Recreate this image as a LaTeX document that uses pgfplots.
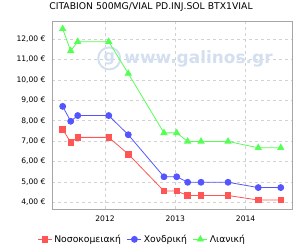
\documentclass[border=0pt]{standalone}
\usepackage{pgfplots}
\pgfplotsset{compat=1.18}
\usepackage{fontspec}
\setmainfont{DejaVu Sans}
\definecolor{cred}{RGB}{255,85,85}
\definecolor{cblue}{RGB}{85,85,255}
\definecolor{cgreen}{RGB}{85,255,85}
\definecolor{wm}{RGB}{212,224,240}
\begin{document}
\begin{tikzpicture}[x=1bp,y=1bp]
\useasboundingbox (0,0) rectangle (300,250);
\node[font=\fontsize{9.3}{10}\selectfont] at (151,243) {CITABION 500MG/VIAL PD.INJ.SOL BTX1VIAL};
\begin{axis}[
  at={(52bp,41bp)}, anchor=south west,
  scale only axis, width=240.7bp, height=187.3bp,
  xmin=2011.246, xmax=2014.67, ymin=3.67, ymax=12.85,
  xtick={2012,2013,2014}, xticklabels={2012,2013,2014},
  ytick={4,5,6,7,8,9,10,11,12},
  yticklabel={\pgfmathprintnumber[fixed,fixed zerofill,precision=2,use comma]{\tick}~€},
  /pgf/number format/assume math mode=true,
  tick label style={font=\fontsize{7.6}{9}\selectfont},
  major tick length=0pt,
  yticklabel style={xshift=-3bp},
  xticklabel style={yshift=-3bp},
  grid=major, major grid style={gray!35, dashed, line width=0.5pt},
  axis line style={gray!70, line width=0.8pt},
  legend style={at={(0.375,-0.162)}, anchor=center, draw=none, fill=none, legend columns=3,
    font=\fontsize{9.3}{10}\selectfont, /tikz/every even column/.append style={column sep=4bp},
    /tikz/every odd column/.append style={column sep=0bp}},
  legend image code/.code={\draw[mark repeat=2,mark phase=2,#1] plot coordinates {(0bp,0bp) (7bp,0bp) (14bp,0bp)};},
  legend cell align=left,
]
\node[text=wm, font=\fontsize{17}{17}\selectfont\bfseries, inner sep=0pt] at (axis cs:2013.33,11.05) {www.galinos.gr};
\node[draw=wm, line width=2pt, circle, minimum size=22bp, text=wm, font=\fontsize{16}{16}\selectfont\bfseries, inner sep=0pt] at (axis cs:2012.06,11.05) {g};
\addplot[cred, line width=0.8pt, mark=square*, mark size=2.8bp, mark options={solid, fill=cred}] coordinates {
(2011.398,7.58) (2011.512,6.93) (2011.612,7.18) (2012.053,7.18) (2012.331,6.36)
(2012.839,4.55) (2013.02,4.55) (2013.176,4.33) (2013.366,4.33) (2013.75,4.33)
(2014.18,4.11) (2014.50,4.11)};
\addlegendentry{Νοσοκομειακή}
\addplot[cblue, line width=0.8pt, mark=*, mark size=3bp, mark options={solid, fill=cblue}] coordinates {
(2011.398,8.70) (2011.512,7.97) (2011.612,8.25) (2012.053,8.25) (2012.331,7.31)
(2012.839,5.25) (2013.02,5.25) (2013.176,4.98) (2013.366,4.98) (2013.75,4.98)
(2014.18,4.72) (2014.50,4.72)};
\addlegendentry{Χονδρική}
\addplot[cgreen, line width=0.8pt, mark=triangle*, mark size=3.5bp, mark options={solid, fill=cgreen}] coordinates {
(2011.398,12.50) (2011.512,11.42) (2011.612,11.87) (2012.053,11.87) (2012.331,10.31)
(2012.839,7.40) (2013.02,7.40) (2013.176,6.98) (2013.366,6.98) (2013.75,6.98)
(2014.18,6.67) (2014.50,6.67)};
\addlegendentry{Λιανική}
\end{axis}
\end{tikzpicture}
\end{document}
